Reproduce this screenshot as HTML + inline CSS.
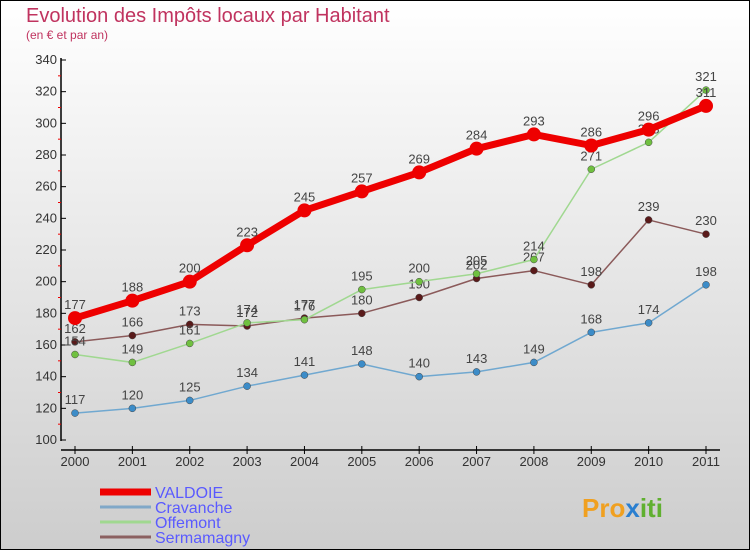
<!DOCTYPE html>
<html><head><meta charset="utf-8"><style>
body{margin:0}
#c{width:750px;height:550px;position:relative;overflow:hidden}
svg{display:block;font-family:"Liberation Sans","DejaVu Sans",sans-serif}
</style></head><body>
<div id="c">
<svg id="s" width="750" height="550" xmlns="http://www.w3.org/2000/svg">
<defs><linearGradient id="bg" x1="0" y1="0" x2="0" y2="1"><stop offset="0" stop-color="#ffffff"/><stop offset="1" stop-color="#cdcdcd"/></linearGradient></defs>
<rect x="0.5" y="0.5" width="749" height="549" fill="url(#bg)" stroke="#000"/>
<text x="26" y="22" font-size="20" fill="#c0335f">Evolution des Impôts locaux par Habitant</text>
<text x="26" y="39" font-size="12" fill="#c0335f">(en € et par an)</text>
<g id="axes"></g><g id="plot"></g><g id="legend"></g>
<text x="582" y="517" font-size="26" font-weight="bold" fill="#f0a020">Pro<tspan fill="#2a7fd0">x</tspan><tspan fill="#60b030">iti</tspan></text>
</svg></div>
<script>
const years=["2000","2001","2002","2003","2004","2005","2006","2007","2008","2009","2010","2011"];
const valdoie=[177,188,200,223,245,257,269,284,293,286,296,311];
const cravanche=[117,120,125,134,141,148,140,143,149,168,174,198];
const offemont=[154,149,161,174,176,195,200,205,214,271,288,321];
const sermamagny=[162,166,173,172,177,180,190,202,207,198,239,230];
const yTicks=[100,120,140,160,180,200,220,240,260,280,300,320,340];
const NS="http://www.w3.org/2000/svg";
const X=i=>75+i*(706-75)/11;
const Y=v=>440-(v-100)*(380/240);
function mk(t,a,p){const e=document.createElementNS(NS,t);for(const k in a)e.setAttribute(k,a[k]);p.appendChild(e);return e;}
const ax=document.getElementById('axes');
const yl=mk('line',{x1:61,y1:58,x2:61,y2:441,stroke:'#000','stroke-width':1.5},ax);

const xl=mk('line',{x1:61,y1:450,x2:720,y2:450,stroke:'#000','stroke-width':1.5},ax);

yTicks.forEach((v,k)=>{
  mk('line',{x1:61,y1:Y(v),x2:66,y2:Y(v),stroke:'#000'},ax);
  if(k<yTicks.length-1)mk('line',{x1:58,y1:Y(v+10),x2:61,y2:Y(v+10),stroke:'#e00'},ax);
  const t=mk('text',{x:57,y:Y(v)+4,'font-size':13,'text-anchor':'end',fill:'#333'},ax);t.textContent=v;
  
});
years.forEach((y,i)=>{
  mk('line',{x1:X(i),y1:446,x2:X(i),y2:454,stroke:'#000'},ax);
  const t=mk('text',{x:X(i),y:466,'font-size':13,'text-anchor':'middle',fill:'#333'},ax);t.textContent=y;
  
});
const pl=document.getElementById('plot');
const series=[
 {n:'Sermamagny',d:sermamagny,c:'#8b5a5a',m:'#5a1a1a',w:1.5,r:3.5},
 {n:'Offemont',d:offemont,c:'#a0d890',m:'#70c040',w:1.5,r:3.5},
 {n:'Cravanche',d:cravanche,c:'#70a8d0',m:'#3c8cc8',w:1.5,r:3.5},
 {n:'VALDOIE',d:valdoie,c:'#ee0000',m:'#ee0000',w:7,r:7}
];
series.forEach(s=>{
  const g=mk('g',{},pl);
  
  const p=mk('polyline',{points:s.d.map((v,i)=>X(i)+','+Y(v)).join(' '),fill:'none',stroke:s.c,'stroke-width':s.w,'stroke-linejoin':'round'},g);
  
  s.d.forEach((v,i)=>{
    const c=mk('circle',{cx:X(i),cy:Y(v),r:s.r,fill:s.m,stroke:s.w>2?'none':'#444','stroke-width':0.5},g);
    
    const t=mk('text',{x:X(i),y:Y(v)-9,'font-size':13,'text-anchor':'middle',fill:'#444'},g);t.textContent=v;
    
  });
});
const lg=document.getElementById('legend');
const leg=[['VALDOIE','#ee0000',7],['Cravanche','#80a8c8',3],['Offemont','#a0d890',3],['Sermamagny','#8b6060',3]];
leg.forEach((l,k)=>{
  const y=492+k*15;
  const g=mk('g',{},lg);
  
  mk('line',{x1:100,y1:y,x2:151,y2:y,stroke:l[1],'stroke-width':l[2]},g);
  const t=mk('text',{x:155,y:y+6,'font-size':16,fill:'#5a5aff'},g);t.textContent=l[0];
});
</script>
</body></html>
